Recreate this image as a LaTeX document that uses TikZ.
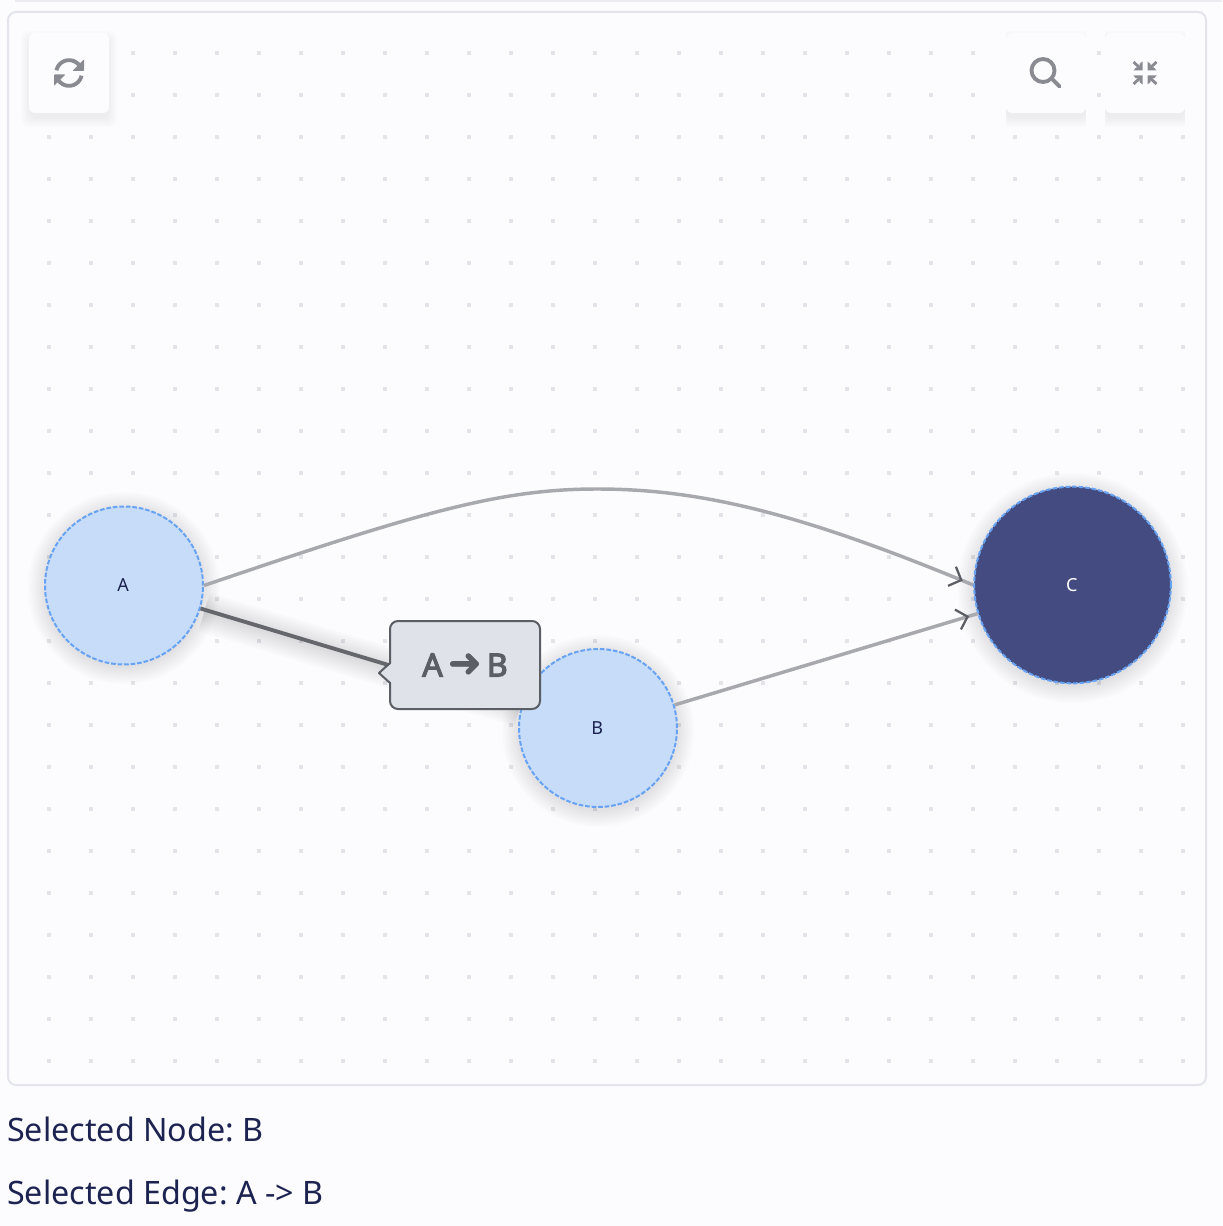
\documentclass[tikz,border=0pt]{standalone}
\usepackage{fontspec}
\setmainfont{Noto Sans}
\newfontfamily\tipfont[FakeBold=3.5]{Noto Sans}
\newfontfamily\symfont[FakeBold=1.5]{DejaVu Sans}
\usetikzlibrary{arrows.meta,decorations.markings}
\definecolor{pagebg}{HTML}{FCFCFF}
\definecolor{frame}{HTML}{E3E4EC}
\definecolor{griddot}{HTML}{E3E4EA}
\definecolor{icon}{HTML}{8A8B92}
\definecolor{nodefill}{HTML}{C6DCF9}
\definecolor{nodeline}{HTML}{68A3F3}
\definecolor{darkfill}{HTML}{444B80}
\definecolor{ink}{HTML}{1C2350}
\definecolor{edgegrey}{HTML}{A8A9AF}
\definecolor{edgedark}{HTML}{66676D}
\definecolor{tipgrey}{HTML}{5C5E66}
\definecolor{tipfill}{HTML}{E0E2E9}
\tikzset{
  graphnode/.style={circle,inner sep=0pt,fill=nodefill,draw=nodeline,line width=1.5pt,dash pattern=on 3.5pt off 1.4pt,minimum size=118.5pt,text=ink,font=\fontsize{13.5}{13.5}\selectfont},
  darknode/.style={graphnode,fill=darkfill,minimum size=147.5pt,text=white},
  plainedge/.style={draw=edgegrey,line width=2.6pt},
  chevron/.style={postaction={decorate},decoration={markings,mark=at position #1 with {\arrow{Straight Barb[length=7.5pt,width=15.5pt,line width=1.7pt,color=tipgrey]}}}},
  toolbtn/.style={fill=pagebg,rounded corners=4.5pt},
  iconline/.style={draw=icon,line width=2.9pt},
  caption/.style={anchor=base west,inner sep=0pt,text=ink,font=\frenchspacing\fontsize{24.2}{24.2}\selectfont},
}
\begin{document}
\begin{tikzpicture}[x=0.75pt,y=-0.75pt]
\useasboundingbox (0,0) rectangle (1222,1226);
\fill[pagebg] (0,0) rectangle (1222,1226);
\fill[frame!70] (15,0) rectangle (1222,2);
% panel
\draw[frame,line width=1.5pt,rounded corners=6pt] (8,12) rectangle (1206,1085);
% grid dots
\foreach \i in {0,...,27}{
  \foreach \j in {0,...,24}{
    \fill[griddot] ({47+42*\i},{51+42*\j}) rectangle ++(4,4);
  }
}
% button shadows
\foreach \bx/\ex in {29/12,1006/0,1105/0}{
  \begin{scope}
    \clip ({\bx-\ex},20) rectangle ({\bx+80+\ex},135);
    \foreach \k in {8,6,...,0}{
      \fill[black,opacity=0.013,rounded corners=6pt] ({\bx-\k},{33+6-\k}) rectangle ({\bx+80+\k},{113+6+\k});
    }
  \end{scope}
}
\fill[toolbtn] (29,33) rectangle (109,113);
\fill[toolbtn] (1006,33) rectangle (1086,113);
\fill[toolbtn] (1105,33) rectangle (1185,113);
% refresh icon
\draw[iconline] plot[domain=192:325,samples=24] ({69+12.8*cos(\x)},{73+12.8*sin(\x)});
\draw[iconline] plot[domain=12:145,samples=24] ({69+12.8*cos(\x)},{73+12.8*sin(\x)});
\fill[icon,rounded corners=0.6pt] (84,59.3) -- (84,71) -- (72.5,71) -- cycle;
\fill[icon,rounded corners=0.6pt] (54,86) -- (54,74.5) -- (65.5,74.5) -- cycle;
% search icon
\draw[iconline] (1043,70.5) circle[radius=11.5];
\draw[iconline,line cap=round] (1051.5,78.5) -- (1059.5,86.5);
% compress icon
\foreach \sx/\sy in {1/1,-1/1,1/-1,-1/-1}{
  \begin{scope}[shift={(1145,73)},xscale=\sx,yscale=\sy]
    \draw[icon,line width=2.1pt] (-11.5,-11) -- (-4.5,-4.5);
    \fill[icon] (-11.5,-2.5) -- (-2.5,-2.5) -- (-2.5,-11.5) -- (-5.5,-9) -- (-5.5,-5.5) -- (-9,-5.5) -- cycle;
  \end{scope}
}
% node shadows
\foreach \k in {16,14,...,0}{
  \fill[black,opacity=0.010] (124,588) circle[radius=80+\k];
  \fill[black,opacity=0.010] (598,731) circle[radius=80+\k];
  \fill[black,opacity=0.010] (1072.5,588) circle[radius=99+\k];
}
% selected edge shadow
\foreach \k in {40,35,...,5}{
  \draw[black,opacity=0.016,line width={\k*0.75pt}] (204,612) -- (520,707);
}
% nodes
\node[graphnode,text depth=0pt] (A) at (124,585.5) {\hspace{-1.5pt}A};
\node[graphnode,text depth=0pt] (B) at (598,728) {\hspace{-1pt}B};
\node[darknode,text depth=0pt] (C) at (1072.5,585) {\hspace{-1pt}C};
% edges
\draw[plainedge,chevron=-8.5pt] (A.east) .. controls (420,512) and (500,489) .. (597,489) .. controls (700,489) and (800,513) .. (C.west);
\draw[plainedge,chevron=-6.5pt] (B) -- (C);
\draw[draw=edgedark,line width=2.9pt] (A) -- (B);
% tooltip
\node[draw=tipgrey,fill=tipfill,line width=1.5pt,rounded corners=6pt,minimum width=112.5pt,minimum height=66pt,inner sep=0pt,text=tipgrey,font=\tipfont\fontsize{24}{24}\selectfont] (tip) at (465,665) {A\,{\symfont\fontsize{30}{24}\selectfont ➜}\,B};
\fill[tipfill] (392,663) -- (379,673) -- (392,683) -- cycle;
\draw[tipgrey,line width=1.5pt,line join=round] (390,663) -- (379,673) -- (390,683);
% captions
\node[caption] (n1) at (7,1141) {Selected Node: B};
\node[caption] (n2) at (7,1204) {Selected Edge: A -> B};
\end{tikzpicture}
\end{document}
